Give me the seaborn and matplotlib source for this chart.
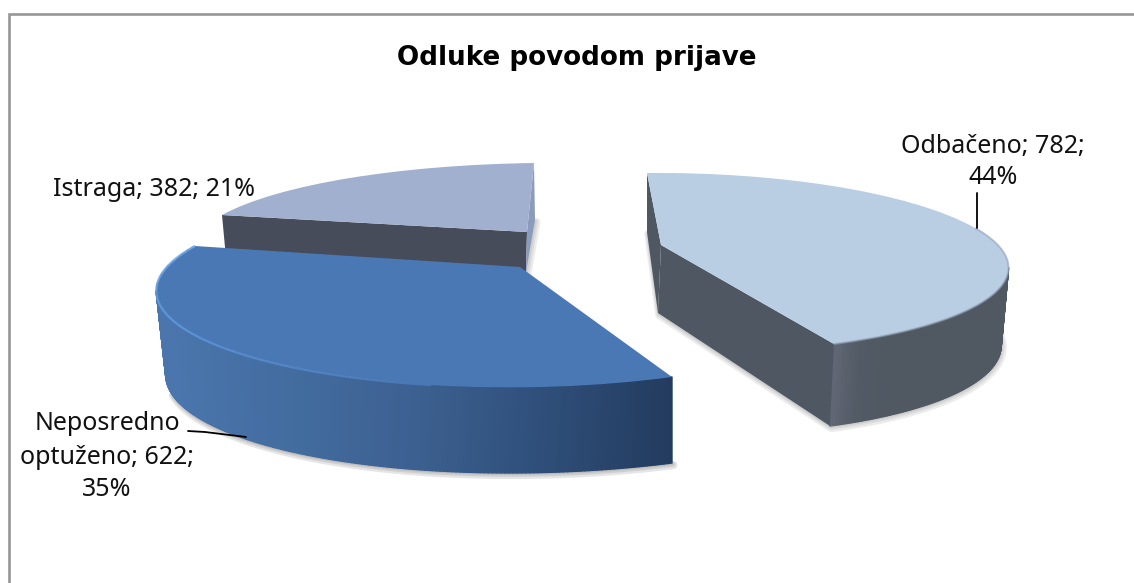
import numpy as np
import matplotlib
matplotlib.use('Agg')
import matplotlib.pyplot as plt
from matplotlib.collections import LineCollection, PolyCollection
from matplotlib.transforms import Transform
import seaborn as sns

title = 'Odluke povodom prijave'
categories = ['Odbačeno', 'Neposredno optuženo', 'Istraga']
counts = [782, 622, 382]
top_colors = ['#b9cde3', '#4a78b4', '#a1b0ce']

### Where each slice lands on the picture: apex, clockwise start of the rim, rim middle, clockwise end of the rim
top_anchors = [
    [(661, 245), (647, 173), (975, 228), (834, 344)],
    [(520, 267), (672, 377), (235, 352), (195, 246)],
    [(527, 232), (222, 215), (350, 178), (534, 163)],
]
bottom_anchors = [
    [(658, 313), (647, 232), (971, 303), (830, 426)],
    [(518, 345), (672, 463), (240, 437), (198, 330)],
    [(526, 272), (226, 258), (352, 225), (535, 220)],
]
wall_stops = [
    ['#646b78', '#525a65', '#505862', '#505862', '#505862', '#505862', '#505862'],
    ['#4a76ad', '#436c9f', '#3c6090', '#2f4f7a', '#233b5e'],
    ['#474c5a', '#474c5a'],
]
wall_range = [(830, 1005), (165, 672), (220, 535)]
start_wall = ['#4f5862', None, '#474c5a']
end_wall = ['#4f5862', None, '#8b9bbb']
shadow_alpha = [0.22, 0.3, 0.2]

label_lines = [
    ['{name}; {count};', '{pct}%'],
    ['Neposredno', 'optuženo; {count};', '{pct}%'],
    ['{name}; {count}; {pct}%'],
]
label_x = [993, 107, 154]
label_y = [[146, 178], [424, 457, 490], [190]]
leaders = [[(977, 193), (977, 228)], [(188, 431), (205, 432), (246, 437)]]


def fit_homography(src, dst):
    rows, rhs = [], []
    for (x, y), (u, v) in zip(src, dst):
        rows.append([x, y, 1, 0, 0, 0, -u * x, -u * y])
        rows.append([0, 0, 0, x, y, 1, -v * x, -v * y])
        rhs += [u, v]
    h = np.linalg.solve(np.array(rows, dtype=float), np.array(rhs, dtype=float))
    return np.append(h, 1).reshape(3, 3)


def apply_homography(H, pts):
    pts = np.c_[pts, np.ones(len(pts))] @ H.T
    return pts[:, :2] / pts[:, 2:]


class PlaneTransform(Transform):
    input_dims = 2
    output_dims = 2

    def __init__(self, H):
        super().__init__()
        self.H = H

    def transform_non_affine(self, values):
        return apply_homography(self.H, np.asarray(values, dtype=float))


def unit(deg):
    rad = np.radians(deg)
    return np.c_[np.cos(rad), np.sin(rad)]


sns.set_theme(style='white')
plt.rcParams['font.family'] = ['Noto Sans', 'DejaVu Sans']

fig = plt.figure(figsize=(11.34, 5.83), dpi=100, facecolor='white')
ax = fig.add_axes([0, 0, 1, 1])
wedges, _ = ax.pie(counts, colors=top_colors, startangle=90, counterclock=False,
                   wedgeprops={'linewidth': 0})
ax.set_aspect('auto')
ax.set_xlim(0, 1134)
ax.set_ylim(583, 0)
ax.axis('off')

### Chart frame only shows on top and left
ax.plot([8.5, 8.5, 1134], [583, 14, 14], color='#969696', lw=1.9, zorder=1, solid_joinstyle='miter')

total = sum(counts)
### Back slices first so the blue slice sits over the grey one
for i in [2, 0, 1]:
    wedge = wedges[i]
    base = 2 + [2, 0, 1].index(i) * 10
    start, end = wedge.theta2, wedge.theta1
    src = np.vstack([[0, 0], unit(start), unit((start + end) / 2), unit(end)])
    H_top = fit_homography(src, top_anchors[i])
    H_bot = fit_homography(src, bottom_anchors[i])

    thetas = np.linspace(start, end, 240)
    rim_top = apply_homography(H_top, unit(thetas))
    rim_bot = apply_homography(H_bot, unit(thetas))
    apex_top = np.array(top_anchors[i][0], dtype=float)
    apex_bot = np.array(bottom_anchors[i][0], dtype=float)

    ### Soft shadow under the slice
    if i == 0:
        outline = np.vstack([rim_bot[0], apex_bot, rim_bot[-1], rim_bot[::-1][:150]])
    elif i == 1:
        outline = rim_bot[:170]
    else:
        outline = np.vstack([rim_bot[-1], apex_bot])
    for width, grow in [(6, 2), (3.5, 1.5), (1.5, 1)]:
        ax.plot(outline[:, 0] + grow * 0.7, outline[:, 1] + grow, color='#555555', lw=width,
                alpha=shadow_alpha[i] / 2, zorder=base, solid_capstyle='round')

    ### Outer wall as thin strips, colour runs left to right, only the part facing the viewer
    palette = sns.blend_palette(wall_stops[i], 101)
    x0, x1 = wall_range[i]
    strips, strip_colors = [], []
    if i == 0:
        visible = range(int(np.argmax(rim_top[:, 0])), len(thetas) - 1)
    else:
        visible = range(0, int(np.argmin(rim_top[:, 0])))
    for k in visible:
        strips.append([rim_top[k], rim_top[k + 1], rim_bot[k + 1], rim_bot[k]])
        frac = np.clip((rim_top[k, 0] - x0) / (x1 - x0), 0, 1)
        strip_colors.append(palette[int(frac * 100)])
    if i != 2:
        ax.add_collection(PolyCollection(strips, facecolors=strip_colors, edgecolors=strip_colors,
                                         linewidths=1.0, zorder=base + 1))

    ### Cut faces of the slice
    if start_wall[i]:
        ax.fill([apex_top[0], rim_top[0, 0], rim_bot[0, 0], apex_bot[0]],
                [apex_top[1], rim_top[0, 1], rim_bot[0, 1], apex_bot[1]],
                color=start_wall[i], lw=0, zorder=base + 2)
    if end_wall[i]:
        ax.fill([apex_top[0], rim_top[-1, 0], rim_bot[-1, 0], apex_bot[0]],
                [apex_top[1], rim_top[-1, 1], rim_bot[-1, 1], apex_bot[1]],
                color=end_wall[i], lw=0, zorder=base + 2)

    ### Top face is the pie wedge itself, moved onto its plane
    wedge.set_transform(PlaneTransform(H_top) + ax.transData)
    wedge.set_zorder(base + 3)

    if i == 0:
        ax.plot(rim_top[120:, 0], rim_top[120:, 1], color='#8fa0b6', lw=1.4, alpha=0.6, zorder=base + 4)
    if i == 1:
        segs = np.stack([rim_top[:-1], rim_top[1:]], axis=1)[60:]
        fade = sns.blend_palette(['#4a78b4', '#5f97dc', '#6ba4e6'], len(segs))
        ax.add_collection(LineCollection(segs, colors=fade, linewidths=1.6, zorder=base + 4))

### Labels
for i, name in enumerate(categories):
    pct = round(100 * counts[i] / total)
    for line, y in zip(label_lines[i], label_y[i]):
        ax.text(label_x[i], y, line.format(name=name, count=counts[i], pct=pct), ha='center', va='center',
                fontsize=18, color='#111111', zorder=60)
for pts in leaders:
    xs, ys = zip(*pts)
    ax.plot(xs, ys, color='black', lw=1.3, zorder=60)

ax.text(577, 58, title, ha='center', va='center', fontsize=18.8, fontweight='bold', color='black',
        family='DejaVu Sans', zorder=60)

fig.savefig('out.png', dpi=100, facecolor='white')
